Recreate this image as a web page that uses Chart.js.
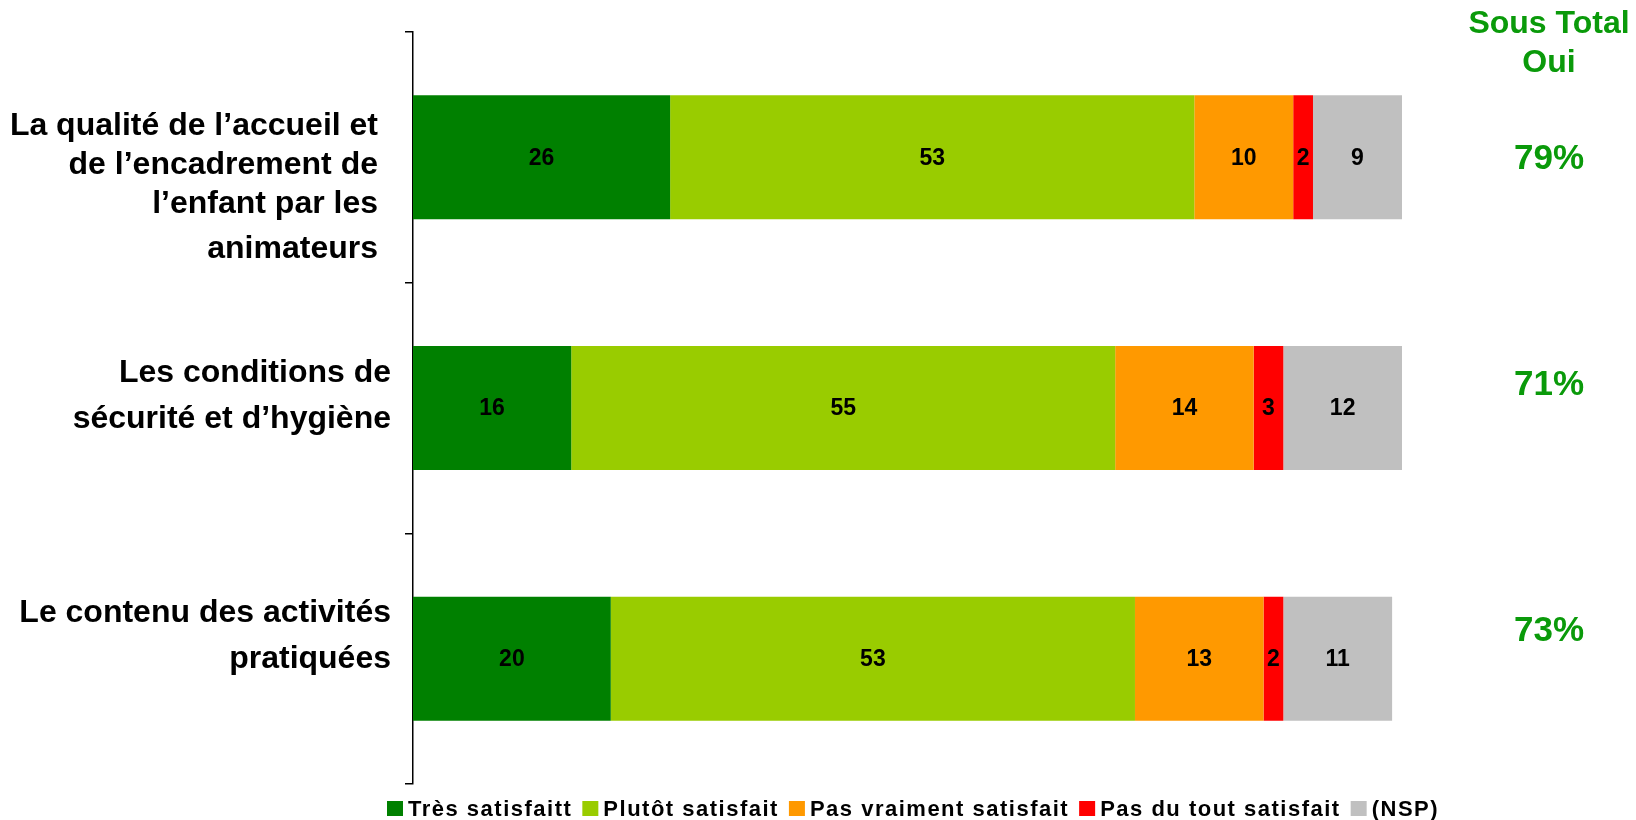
<!DOCTYPE html>
<html>
<head>
<meta charset="utf-8">
<script src="https://cdn.jsdelivr.net/npm/chart.js@4"></script>
<style>
  body { margin: 0; background: #fff; }
  #wrap { width: 1636px; height: 820px; position: relative; }
</style>
</head>
<body>
<div id="wrap"><canvas id="satisfaction"></canvas></div>
<script>
// Libellés des questions (une ligne par entrée)
const categories = [
  ["La qualité de l’accueil et", "de l’encadrement de", "l’enfant par les", "animateurs"],
  ["Les conditions de", "sécurité et d’hygiène"],
  ["Le contenu des activités", "pratiquées"]
];
const seriesNames = ["Très satisfaitt", "Plutôt satisfait", "Pas vraiment satisfait", "Pas du tout satisfait", "(NSP)"];
const seriesColors = ["#008000", "#99CC00", "#FF9900", "#FF0000", "#C0C0C0"];

const tresSatisfait   = [26, 16, 20];
const plutotSatisfait = [53, 55, 53];
const pasVraiment     = [10, 14, 13];
const pasDuTout       = [2, 3, 2];
const nsp             = [9, 12, 11];

// Sous total Oui = très + plutôt
const sousTotalOui = tresSatisfait.map((v, i) => v + plutotSatisfait[i]);

// petits décalages de mise en page des textes
const labelShiftY = [27, -12, -22];
const labelLineGap = [39, 46, 46];
const labelGapX = [35, 22, 22];
const totalShiftY = [2, -23, -27];

const FONT = "'Liberation Sans', Arial, sans-serif";
const VERT = "#0A9A0A";

const datasets = [tresSatisfait, plutotSatisfait, pasVraiment, pasDuTout, nsp].map((data, i) => ({
  label: seriesNames[i],
  data,
  backgroundColor: seriesColors[i],
  borderWidth: 0,
  barPercentage: 1,
  categoryPercentage: 0.495
}));

// Valeurs au centre des segments
const valeursPlugin = {
  id: "valeurs",
  afterDatasetsDraw(chart) {
    const ctx = chart.ctx;
    ctx.save();
    ctx.font = "bold 23px " + FONT;
    ctx.fillStyle = "#000";
    ctx.textAlign = "center";
    ctx.textBaseline = "middle";
    chart.data.datasets.forEach((ds, d) => {
      chart.getDatasetMeta(d).data.forEach((bar, i) => {
        const x = (bar.x + bar.base) / 2;
        ctx.fillText(String(ds.data[i]), x, bar.y + 1);
      });
    });
    ctx.restore();
  }
};

// Libellés de gauche, colonne "Sous Total Oui" et légende
const textesPlugin = {
  id: "textes",
  afterDraw(chart) {
    const ctx = chart.ctx;
    const yScale = chart.scales.y;
    const left = chart.chartArea.left;
    ctx.save();
    ctx.textBaseline = "middle";

    ctx.font = "bold 32px " + FONT;
    ctx.fillStyle = "#000";
    ctx.textAlign = "right";
    categories.forEach((lines, i) => {
      const yc = yScale.getPixelForValue(i) + labelShiftY[i];
      const gap = labelLineGap[i];
      const y0 = yc - gap * (lines.length - 1) / 2;
      lines.forEach((line, k) => {
        let y = y0 + k * gap;
        if (i === 0 && k === lines.length - 1) y += 6;
        ctx.fillText(line, left - labelGapX[i], y);
      });
    });

    const xc = 1549;
    ctx.textAlign = "center";
    ctx.fillStyle = VERT;
    ctx.font = "bold 32px " + FONT;
    ctx.fillText("Sous Total", xc, 24);
    ctx.fillText("Oui", xc, 63);
    ctx.font = "bold 35px " + FONT;
    sousTotalOui.forEach((v, i) => {
      ctx.fillText(v + "%", xc, yScale.getPixelForValue(i) + totalShiftY[i]);
    });

    // légende en bas
    ctx.textAlign = "left";
    ctx.font = "bold 22px " + FONT;
    ctx.letterSpacing = "1.5px";
    let x = 387;
    const y = 809;
    seriesNames.forEach((name, i) => {
      ctx.fillStyle = seriesColors[i];
      ctx.fillRect(x, y - 8, 16, 15);
      ctx.fillStyle = "#000";
      ctx.fillText(name, x + 21, y + 1);
      x += 21 + ctx.measureText(name).width + 10;
    });
    ctx.restore();
  }
};

new Chart(document.getElementById("satisfaction"), {
  type: "bar",
  data: { labels: categories.map(l => l.join(" ")), datasets },
  plugins: [valeursPlugin, textesPlugin],
  options: {
    indexAxis: "y",
    responsive: true,
    maintainAspectRatio: false,
    animation: false,
    layout: { padding: { top: 32, right: 234, bottom: 36, left: 0 } },
    plugins: {
      tooltip: { enabled: false },
      legend: { display: false }
    },
    scales: {
      x: { stacked: true, min: 0, max: 100, display: false },
      y: {
        stacked: true,
        afterFit(scale) { scale.width = 413; },
        border: { color: "#000", width: 1.5 },
        grid: { drawOnChartArea: false, offset: true, tickLength: 8, color: "#000", lineWidth: 1.5 },
        ticks: { display: false }
      }
    }
  }
});
</script>
</body>
</html>
